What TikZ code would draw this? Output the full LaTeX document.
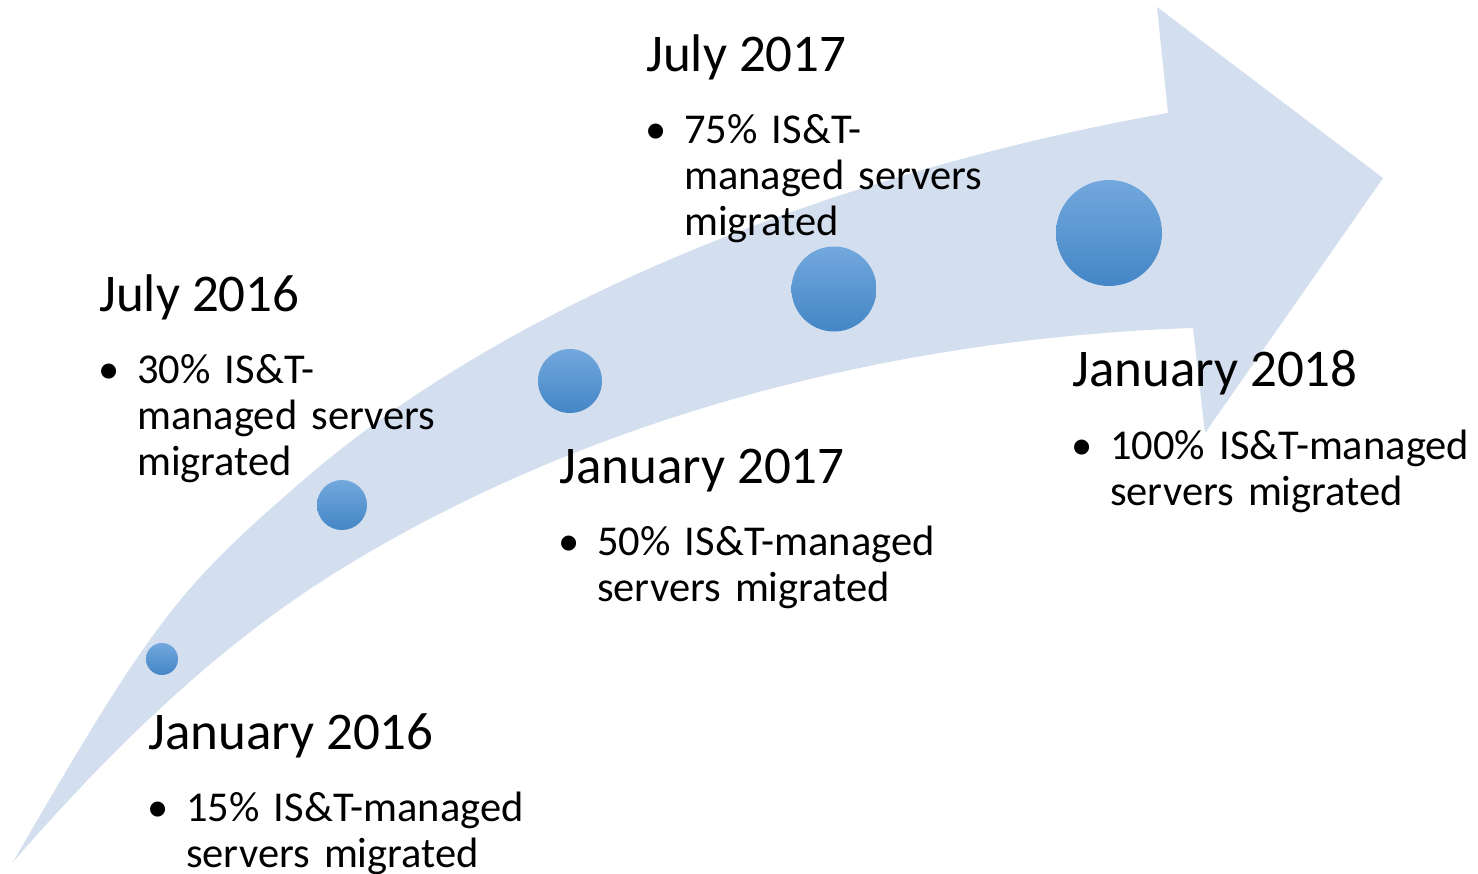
\documentclass[tikz,border=0pt]{standalone}
\usepackage{fontspec}
\setmainfont{Carlito}
\usepackage{xcolor}
\definecolor{band}{HTML}{D3DEEF}
\definecolor{dottop}{HTML}{72A8DD}
\definecolor{dotmid}{HTML}{5B9BD5}
\definecolor{dotbot}{HTML}{4486C6}
\usepackage{tikz}
\usetikzlibrary{positioning}

\begin{document}
\begin{tikzpicture}[
  x=1pt, y=-1pt,
  node distance=72pt and 38pt,
  when/.style={anchor=base west, inner sep=0pt, font=\fontsize{53pt}{64pt}\selectfont},
  fact/.style={inner sep=0pt, text width=400pt, align=left, font=\fontsize{42.5pt}{46pt}\selectfont},
  bul/.style={inner sep=0pt, font=\fontsize{42.5pt}{46pt}\selectfont},
  dot/.style={circle, inner sep=0pt, top color=dottop, middle color=dotmid, bottom color=dotbot}
]
\useasboundingbox (0,0) rectangle (1478,874);

% curved arrow
\fill[band] (13,862) .. controls (153,620) and (179,588) .. (300,483)
  .. controls (526,286) and (873,165) .. (1168,113)
  -- (1157,7) -- (1383,178) -- (1205,433) -- (1193,328)
  .. controls (895,338) and (586,416) .. (333,574)
  .. controls (212,650) and (107,754) .. cycle;

\node[dot, minimum size=32pt] (d1) at (162,659) {};
\node[dot, minimum size=50pt] (d2) at (342,505) {};
\node[dot, minimum size=64pt] (d3) at (570,381) {};
\node[dot, minimum size=85pt] (d4) at (834,289) {};
\node[dot, minimum size=106pt] (d5) at (1109,233) {};

\node[when] (h1) at (148,749) {January 2016};
\node[when] (h2) at (99,312) {July 2016};
\node[when] (h3) at (559,483) {January 2017};
\node[when] (h4) at (646,72) {July 2017};
\node[when] (h5) at (1072,387) {January 2018};

\node[fact, below right=of h1.base west, anchor=base west] (t1) {15\% IS\&T-managed\\servers migrated};
\node[fact, below right=of h2.base west, anchor=base west] (t2) {30\% IS\&T-\\managed servers\\migrated};
\node[fact, below right=of h3.base west, anchor=base west] (t3) {50\% IS\&T-managed\\servers migrated};
\node[fact, below right=of h4.base west, anchor=base west] (t4) {75\% IS\&T-\\managed servers\\migrated};
\node[fact, below right=of h5.base west, anchor=base west] (t5) {100\% IS\&T-managed\\servers migrated};

\foreach \t in {t1,t2,t3,t4,t5}
  \node[bul, left=28pt of \t.base west, anchor=base] (b\t) {\textbullet};

\end{tikzpicture}
\end{document}
